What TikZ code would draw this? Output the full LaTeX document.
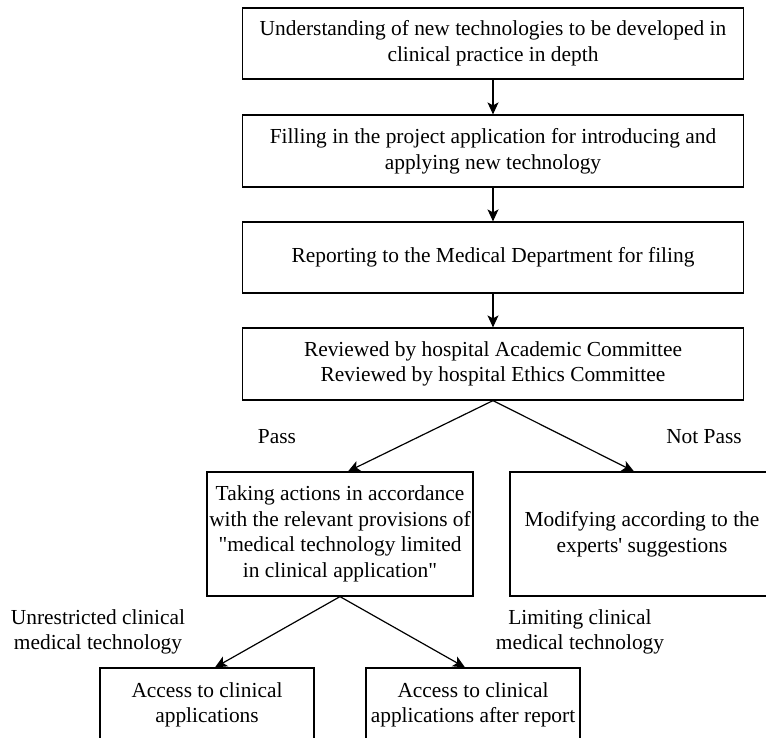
\documentclass[tikz,border=0pt]{standalone}
\usepackage{fontspec}
\setmainfont{Liberation Serif}
\usetikzlibrary{arrows.meta}

\tikzset{
    flowbox/.style={draw, line width=1.2pt, align=center, inner sep=2pt,
        font=\fontsize{21.4}{25.6}\selectfont},
    flowlabel/.style={align=center, inner sep=0pt,
        font=\fontsize{21.4}{25.6}\selectfont},
    flowarrow/.style={line width=1.2pt, -{Stealth[length=12pt,width=11pt,inset=3pt]}}
}

\begin{document}
\begin{tikzpicture}[x=1pt, y=-1pt]
    \useasboundingbox (0,0) rectangle (766,737);

    \node[flowbox, minimum width=501, minimum height=71] (understand) at (493,43.5)
        {Understanding of new technologies to be developed in\\clinical practice in depth};
    \node[flowbox, minimum width=501, minimum height=72] (filling) at (493,151)
        {Filling in the project application for introducing and\\applying new technology};
    \node[flowbox, minimum width=501, minimum height=71] (report) at (493,257.5)
        {Reporting to the Medical Department for filing};
    \node[flowbox, minimum width=501, minimum height=72] (review) at (493,364)
        {Reviewed by hospital Academic Committee\\Reviewed by hospital Ethics Committee};

    \node[flowbox, minimum width=266, minimum height=124] (taking) at (340,534)
        {Taking actions in accordance\\with the relevant provisions of\\\textquotedbl medical technology limited\\in clinical application\textquotedbl};
    \node[flowbox, minimum width=264, minimum height=124] (modify) at (642,534)
        {Modifying according to the\\experts\textquotesingle\ suggestions};

    \node[flowbox, minimum width=214, minimum height=74] (unlimited) at (207,705)
        {Access to clinical\\applications};
    \node[flowbox, minimum width=214, minimum height=74] (limited) at (473,705)
        {Access to clinical\\applications after report};

    \node[flowlabel] (pass) at (277,437) {Pass};
    \node[flowlabel] (notpass) at (704,437) {Not Pass};
    \node[flowlabel] (unrestricted) at (98,632) {Unrestricted clinical\\medical technology};
    \node[flowlabel] (limiting) at (580,632) {Limiting clinical\\medical technology};

    \draw[flowarrow] (understand) -- (filling);
    \draw[flowarrow] (filling) -- (report);
    \draw[flowarrow] (report) -- (review);

    \draw[flowarrow] (review.south) -- ([xshift=8]taking.north);
    \draw[flowarrow] (review.south) -- ([xshift=-8]modify.north);
    \draw[flowarrow] (taking.south) -- ([xshift=8]unlimited.north);
    \draw[flowarrow] (taking.south) -- ([xshift=-8]limited.north);
\end{tikzpicture}
\end{document}
